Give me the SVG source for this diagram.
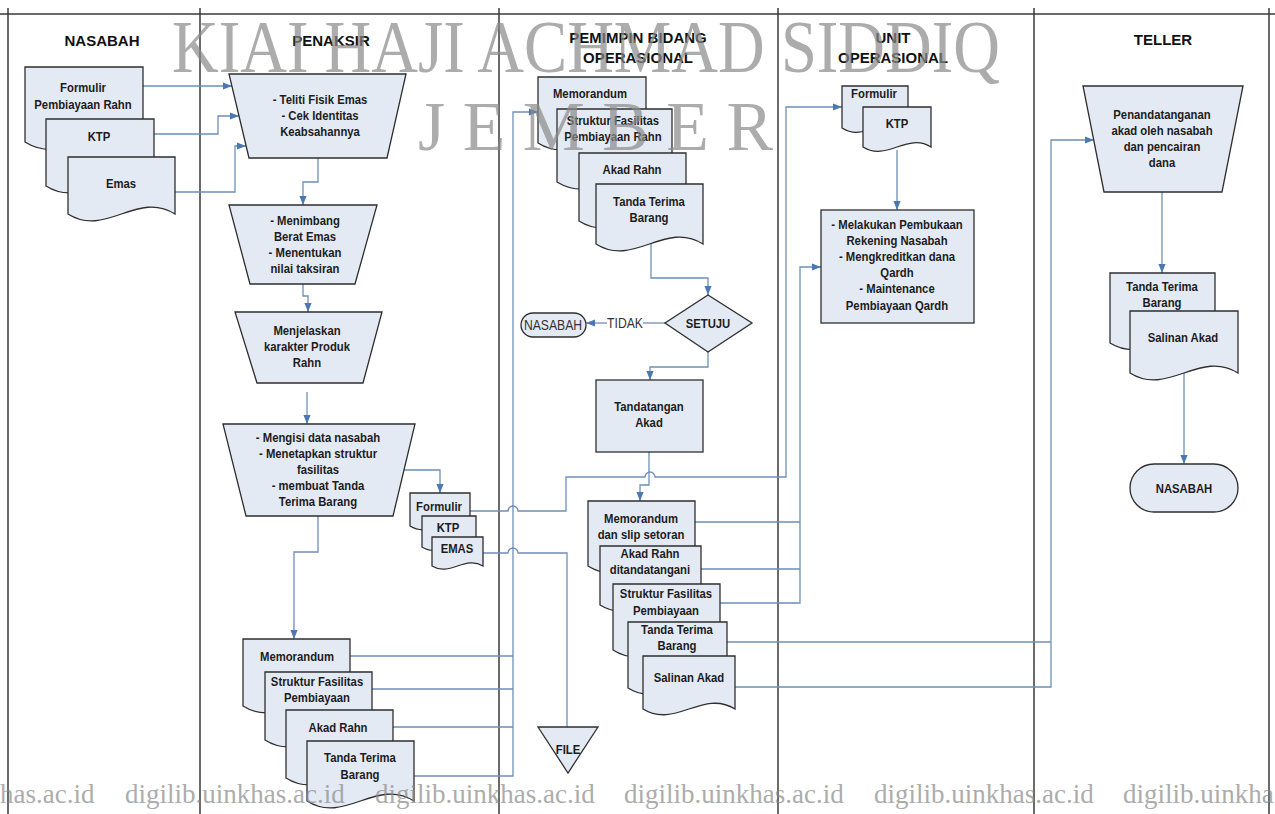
<svg xmlns="http://www.w3.org/2000/svg" width="1275" height="814" viewBox="0 0 1275 814">
<style>
.lane{stroke:#3a3a3a;stroke-width:1.5;fill:none}
.s{fill:#E4EAF4;stroke:#2e2e2e;stroke-width:1.3}
.c{fill:none;stroke:#6F8FB8;stroke-width:1.3}
.a{marker-end:url(#ah)}
.t{font-family:"Liberation Sans",Arial,sans-serif;font-weight:bold;font-size:13px;fill:#1c1c1c;text-anchor:middle;transform-box:fill-box;transform-origin:center;transform:scaleX(.87)}
.n{font-family:"Liberation Sans",Arial,sans-serif;font-size:14px;fill:#333;text-anchor:middle;transform-box:fill-box;transform-origin:center;transform:scaleX(.87)}
.h{font-family:"Liberation Sans",Arial,sans-serif;font-weight:bold;font-size:15px;fill:#111;text-anchor:middle}
.wm{font-family:"Liberation Serif","Times New Roman",serif;fill:#8a8a8a;opacity:.7}
</style>
<defs>
<marker id="ah" viewBox="0 0 10 10" refX="10" refY="5" markerWidth="9" markerHeight="9" markerUnits="userSpaceOnUse" orient="auto"><path d="M0,1 L10,5 L0,9 z" fill="#4A78B0"/></marker>
</defs>
<rect width="1275" height="814" fill="#fff"/>
<g id="lanes">
<line class="lane" x1="0" y1="14" x2="1275" y2="14"/>
<line class="lane" x1="8" y1="8" x2="8" y2="814"/>
<line class="lane" x1="200" y1="8" x2="200" y2="814"/>
<line class="lane" x1="499" y1="8" x2="499" y2="814"/>
<line class="lane" x1="778" y1="8" x2="778" y2="814"/>
<line class="lane" x1="1034" y1="8" x2="1034" y2="814"/>
<line class="lane" x1="1269" y1="8" x2="1269" y2="814"/>
<text class="h" x="102" y="46">NASABAH</text>
<text class="h" x="331" y="46">PENAKSIR</text>
<text class="h" x="638" y="43">PEMIMPIN BIDANG</text>
<text class="h" x="638" y="63">OPERASIONAL</text>
<text class="h" x="893" y="43">UNIT</text>
<text class="h" x="893" y="63">OPERASIONAL</text>
<text class="h" x="1163" y="45">TELLER</text>
</g>
<g id="connectors">
<path class="c a" d="M143,86 H232"/>
<path class="c a" d="M154,134 H218 V116 H239"/>
<path class="c a" d="M175,192 H235 V146 H246"/>
<path class="c a" d="M318,158 V182 H303 V205"/>
<path class="c a" d="M303,284 V296 H308 V312"/>
<path class="c a" d="M307,392 V424"/>
<path class="c a" d="M404,470 H440 V493"/>
<path class="c a" d="M318,516 V552 H294 V639"/>
<path class="c a" d="M470,511 H508 A5,5 0 0 1 518,511 H566 V477 H645 A5,5 0 0 1 655,477 H786 V107 H842"/>
<path class="c" d="M483,553 H508 A5,5 0 0 1 518,553 H567 V727"/>
<path class="c" d="M350,656 H513 M372,689 H513 M393,727 H513"/>
<path class="c a" d="M414,776 H513 V112 H538"/>
<path class="c a" d="M651,244 V278 H708 V295"/>
<path class="c" d="M665,323 H643"/>
<path class="c a" d="M607,323 H586"/>
<path class="c a" d="M708,352 V367 H650 V380"/>
<path class="c a" d="M649,452 V485 H640 V501"/>
<path class="c" d="M695,522 H800 M701,569 H800"/>
<path class="c a" d="M720,603 H800 V267 H821"/>
<path class="c a" d="M897,150 V210"/>
<path class="c" d="M727,642 H1051"/>
<path class="c a" d="M735,687 H1051 V140 H1094"/>
<path class="c a" d="M1162,192 V273"/>
<path class="c a" d="M1184,373 V464"/>
</g>
<g id="nas-formulir"><path class="s" d="M25,67 H143 V142 C101.7,116 66.3,168 25,142 Z"/><text class="t" x="83" y="92">Formulir</text><text class="t" x="83" y="109">Pembiayaan Rahn</text></g>
<g id="nas-ktp"><path class="s" d="M46,119 H154 V186 C116.2,162 83.8,210 46,186 Z"/><text class="t" x="99" y="141">KTP</text></g>
<g id="nas-emas"><path class="s" d="M68,157 H175 V214 C137.5,190 105.5,238 68,214 Z"/><text class="t" x="121" y="188">Emas</text></g>
<g id="p-teliti"><polygon class="s" points="229,74 406,74 387,158 249,158"/><text class="t" x="320" y="104">- Teliti Fisik Emas</text><text class="t" x="320" y="120">- Cek Identitas</text><text class="t" x="320" y="136">Keabsahannya</text></g>
<g id="p-menimbang"><polygon class="s" points="229,205 377,205 355,284 250,284"/><text class="t" x="305" y="225">- Menimbang</text><text class="t" x="305" y="241">Berat Emas</text><text class="t" x="305" y="257">- Menentukan</text><text class="t" x="305" y="273">nilai taksiran</text></g>
<g id="p-menjelaskan"><polygon class="s" points="235,312 382,312 363,383 257,383"/><text class="t" x="307" y="335">Menjelaskan</text><text class="t" x="307" y="351">karakter Produk</text><text class="t" x="307" y="367">Rahn</text></g>
<g id="p-mengisi"><polygon class="s" points="223,424 415,424 393,516 246,516"/><text class="t" x="318" y="442">- Mengisi data nasabah</text><text class="t" x="318" y="458">- Menetapkan struktur</text><text class="t" x="318" y="474">fasilitas</text><text class="t" x="318" y="490">- membuat Tanda</text><text class="t" x="318" y="506">Terima Barang</text></g>
<g id="p-formulir"><path class="s" d="M410,493 H470 V526 C449,513 431,539 410,526 Z"/><text class="t" x="439" y="511">Formulir</text></g>
<g id="p-ktp"><path class="s" d="M422,516 H476 V547 C457.1,535 440.9,559 422,547 Z"/><text class="t" x="448" y="532">KTP</text></g>
<g id="p-emas"><path class="s" d="M432,537 H483 V566 C465.1,555 449.9,577 432,566 Z"/><text class="t" x="457" y="553">EMAS</text></g>
<g id="p-memo"><path class="s" d="M243,639 H350 V706 C312.5,682 280.5,730 243,706 Z"/><text class="t" x="297" y="661">Memorandum</text></g>
<g id="p-struktur"><path class="s" d="M265,672 H372 V740 C334.5,716 302.5,764 265,740 Z"/><text class="t" x="317" y="686">Struktur Fasilitas</text><text class="t" x="317" y="702">Pembiayaan</text></g>
<g id="p-akad"><path class="s" d="M286,710 H393 V778 C355.5,754 323.5,802 286,778 Z"/><text class="t" x="338" y="732">Akad Rahn</text></g>
<g id="p-tanda"><path class="s" d="M307,741 H414 V801 C376.5,777 344.5,825 307,801 Z"/><text class="t" x="360" y="762">Tanda Terima</text><text class="t" x="360" y="779">Barang</text></g>
<g id="file"><polygon class="s" points="538,727 598,727 568,773"/><text class="t" x="568" y="754">FILE</text></g>
<g id="m-memo"><path class="s" d="M538,77 H646 V143 C608.2,119 575.8,167 538,143 Z"/><text class="t" x="590" y="98">Memorandum</text></g>
<g id="m-struktur"><path class="s" d="M557,109 H672 V182 C631.7,157 597.3,207 557,182 Z"/><text class="t" x="613" y="125">Struktur Fasilitas</text><text class="t" x="613" y="141">Pembiayaan Rahn</text></g>
<g id="m-akad"><path class="s" d="M579,153 H686 V221 C648.5,197 616.5,245 579,221 Z"/><text class="t" x="632" y="174">Akad Rahn</text></g>
<g id="m-tanda"><path class="s" d="M596,184 H703 V244 C665.5,220 633.5,268 596,244 Z"/><text class="t" x="649" y="206">Tanda Terima</text><text class="t" x="649" y="222">Barang</text></g>
<g id="m-setuju"><polygon class="s" points="708,295 752,323 708,352 665,323"/><text class="t" x="708" y="328">SETUJU</text></g>
<g id="m-tidak"><text class="n" x="625" y="328">TIDAK</text></g>
<g id="m-nasabah"><rect class="s" x="521" y="313" width="65" height="24" rx="12"/><text class="n" x="553" y="330">NASABAH</text></g>
<g id="m-ttd"><rect class="s" x="596" y="380" width="107" height="72"/><text class="t" x="649" y="411">Tandatangan</text><text class="t" x="649" y="427">Akad</text></g>
<g id="m-memo2"><path class="s" d="M588,501 H695 V566 C657.5,542 625.5,590 588,566 Z"/><text class="t" x="641" y="523">Memorandum</text><text class="t" x="641" y="539">dan slip setoran</text></g>
<g id="m-akad2"><path class="s" d="M600,546 H701 V605 C665.6,583 635.4,627 600,605 Z"/><text class="t" x="650" y="558">Akad Rahn</text><text class="t" x="650" y="574">ditandatangani</text></g>
<g id="m-struktur2"><path class="s" d="M613,584 H720 V650 C682.5,626 650.5,674 613,650 Z"/><text class="t" x="666" y="598">Struktur Fasilitas</text><text class="t" x="666" y="615">Pembiayaan</text></g>
<g id="m-tanda2"><path class="s" d="M628,622 H727 V688 C692.3,666 662.7,710 628,688 Z"/><text class="t" x="677" y="634">Tanda Terima</text><text class="t" x="677" y="650">Barang</text></g>
<g id="m-salinan"><path class="s" d="M643,656 H735 V709 C702.8,689 675.2,729 643,709 Z"/><text class="t" x="689" y="682">Salinan Akad</text></g>
<g id="u-formulir"><path class="s" d="M842,86 H908 V128 C884.9,113 865.1,143 842,128 Z"/><text class="t" x="874" y="98">Formulir</text></g>
<g id="u-ktp"><path class="s" d="M863,107 H931 V147 C907.2,132 886.8,162 863,147 Z"/><text class="t" x="897" y="128">KTP</text></g>
<g id="u-melakukan"><rect class="s" x="821" y="210" width="153" height="113"/><text class="t" x="897" y="229">- Melakukan Pembukaan</text><text class="t" x="897" y="245">Rekening Nasabah</text><text class="t" x="897" y="261">- Mengkreditkan dana</text><text class="t" x="897" y="277">Qardh</text><text class="t" x="897" y="293">- Maintenance</text><text class="t" x="897" y="310">Pembiayaan Qardh</text></g>
<g id="t-penandatanganan"><polygon class="s" points="1083,86 1243,86 1222,192 1104,192"/><text class="t" x="1162" y="119">Penandatanganan</text><text class="t" x="1162" y="135">akad oleh nasabah</text><text class="t" x="1162" y="151">dan pencairan</text><text class="t" x="1162" y="167">dana</text></g>
<g id="t-tanda"><path class="s" d="M1110,273 H1215 V343 C1178.3,320 1146.8,366 1110,343 Z"/><text class="t" x="1162" y="291">Tanda Terima</text><text class="t" x="1162" y="307">Barang</text></g>
<g id="t-salinan"><path class="s" d="M1130,311 H1238 V373 C1200.2,349 1167.8,397 1130,373 Z"/><text class="t" x="1183" y="342">Salinan Akad</text></g>
<g id="t-nasabah"><rect class="s" x="1130" y="464" width="108" height="48" rx="24"/><text class="t" x="1184" y="493">NASABAH</text></g>
<g id="watermark">
<text class="wm" x="172" y="72" font-size="74" textLength="828" lengthAdjust="spacingAndGlyphs">KIAI HAJI ACHMAD SIDDIQ</text>
<text class="wm" x="418" y="150" font-size="70" textLength="355" lengthAdjust="spacingAndGlyphs">J E M B E R</text>
<text class="wm" x="0" y="803" font-size="27">has.ac.id</text>
<text class="wm" x="125" y="803" font-size="27">digilib.uinkhas.ac.id</text>
<text class="wm" x="375" y="803" font-size="27">digilib.uinkhas.ac.id</text>
<text class="wm" x="624" y="803" font-size="27">digilib.uinkhas.ac.id</text>
<text class="wm" x="874" y="803" font-size="27">digilib.uinkhas.ac.id</text>
<text class="wm" x="1123" y="803" font-size="27">digilib.uinkha</text>
</g>
</svg>
